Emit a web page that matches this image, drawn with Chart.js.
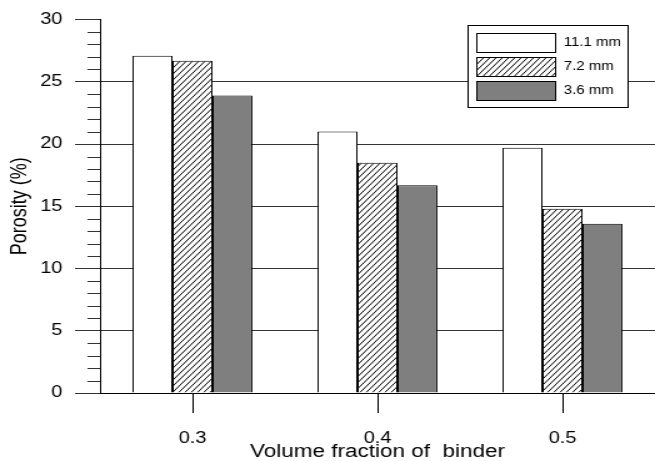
<!DOCTYPE html>
<html>
<head>
<meta charset="utf-8">
<script src="https://cdn.jsdelivr.net/npm/chart.js@4"></script>
<style>
  html, body { margin: 0; padding: 0; background: #fff; overflow: hidden; }
  /* the figure is drawn narrow and widened, like the stretched original */
  #wrap { width: 524px; height: 461px; transform: scaleX(1.25); transform-origin: 0 0; }
  #chart { display: block; }
</style>
</head>
<body>
<div id="wrap"><canvas id="chart" width="524" height="461"></canvas></div>
<script>
const categories = ['0.3', '0.4', '0.5'];
const sizeLabels = ['11.1 mm', '7.2 mm', '3.6 mm'];
const porosity111 = [27.1, 21.0, 19.7];
const porosity72 = [26.7, 18.5, 14.8];
const porosity36 = [23.9, 16.7, 13.6];
const yTicks = [0, 5, 10, 15, 20, 25, 30];

const FONT = '"Liberation Sans", Arial, sans-serif';
const canvas = document.getElementById('chart');
const mainCtx = canvas.getContext('2d');

// diagonal hatch for the 7.2 mm bars
function hatchPattern() {
    const c = document.createElement('canvas');
    c.width = 5;
    c.height = 6;
    const g = c.getContext('2d');
    g.fillStyle = '#fff';
    g.fillRect(0, 0, 5, 6);
    g.strokeStyle = '#000';
    g.lineWidth = 1;
    for (let k = -1; k <= 1; k++) {
        g.beginPath();
        g.moveTo(k * 5, 6);
        g.lineTo(k * 5 + 5, 0);
        g.stroke();
    }
    return mainCtx.createPattern(c, 'repeat');
}

const fills = ['#ffffff', hatchPattern(), '#7f7f7f'];

// minor ticks every 1 unit on the y axis
const minorTicks = {
    id: 'minorTicks',
    afterDraw(chart) {
        const y = chart.scales.y;
        const left = chart.chartArea.left;
        const ctx = chart.ctx;
        ctx.save();
        ctx.strokeStyle = '#333';
        ctx.lineWidth = 1;
        for (let v = y.min; v <= y.max; v++) {
            if (v % 5 === 0) continue;
            const py = Math.round(y.getPixelForValue(v)) + 0.5;
            ctx.beginPath();
            ctx.moveTo(left - 10, py);
            ctx.lineTo(left, py);
            ctx.stroke();
        }
        ctx.restore();
    }
};

// boxed legend in the upper right
const boxLegend = {
    id: 'boxLegend',
    afterDraw(chart) {
        const ctx = chart.ctx;
        const bx = 374, by = 25, bw = 128, bh = 82;
        ctx.save();
        ctx.fillStyle = '#fff';
        ctx.fillRect(bx, by, bw, bh);
        ctx.strokeStyle = '#000';
        ctx.lineWidth = 1;
        ctx.strokeRect(bx + 0.5, by + 0.5, bw, bh);
        chart.data.datasets.forEach((ds, i) => {
            const sy = by + 8 + i * 24;
            ctx.fillStyle = ds.backgroundColor;
            ctx.fillRect(381, sy, 64, 20);
            ctx.strokeRect(381.5, sy + 0.5, 63, 19);
            ctx.fillStyle = '#000';
            ctx.font = '12px ' + FONT;
            ctx.textBaseline = 'middle';
            ctx.textAlign = 'left';
            ctx.fillText(ds.label, 451, sy + 10);
        });
        ctx.restore();
    }
};

const seriesValues = [porosity111, porosity72, porosity36];

new Chart(canvas, {
    type: 'bar',
    data: {
        labels: categories,
        datasets: seriesValues.map((vals, i) => ({
            label: sizeLabels[i],
            data: vals,
            backgroundColor: fills[i],
            borderColor: '#000',
            borderWidth: 1,
            barPercentage: 1,
            categoryPercentage: 0.648
        }))
    },
    options: {
        responsive: false,
        devicePixelRatio: 1,
        animation: false,
        layout: { padding: { top: 18, right: 0, bottom: 0, left: 0 } },
        plugins: { legend: { display: false }, tooltip: { enabled: false } },
        scales: {
            x: {
                afterFit: s => { s.height = 68; },
                grid: {
                    drawOnChartArea: false,
                    offset: false,
                    tickLength: 20,
                    color: '#000'
                },
                border: { color: '#000', width: 1 },
                ticks: { color: '#000', padding: 16, font: { family: FONT, size: 16 } },
                title: {
                    display: true,
                    text: 'Volume fraction of  binder',
                    color: '#000',
                    padding: { top: 0, bottom: 0 },
                    font: { family: FONT, size: 18, lineHeight: 1 }
                }
            },
            y: {
                min: 0,
                max: 30,
                afterFit: s => { s.width = 80; },
                afterBuildTicks: s => { s.ticks = yTicks.map(v => ({ value: v })); },
                grid: {
                    tickLength: 20,
                    color: c => (c.tick && c.tick.value === 30 ? 'rgba(0,0,0,0)' : '#333'),
                    tickColor: '#333'
                },
                border: { color: '#000', width: 1 },
                ticks: { color: '#000', padding: 10, font: { family: FONT, size: 16 } },
                title: {
                    display: true,
                    text: 'Porosity (%)',
                    color: '#000',
                    padding: { top: 7, bottom: 0 },
                    font: { family: FONT, size: 18, lineHeight: 1 }
                }
            }
        }
    },
    plugins: [minorTicks, boxLegend]
});
</script>
</body>
</html>
